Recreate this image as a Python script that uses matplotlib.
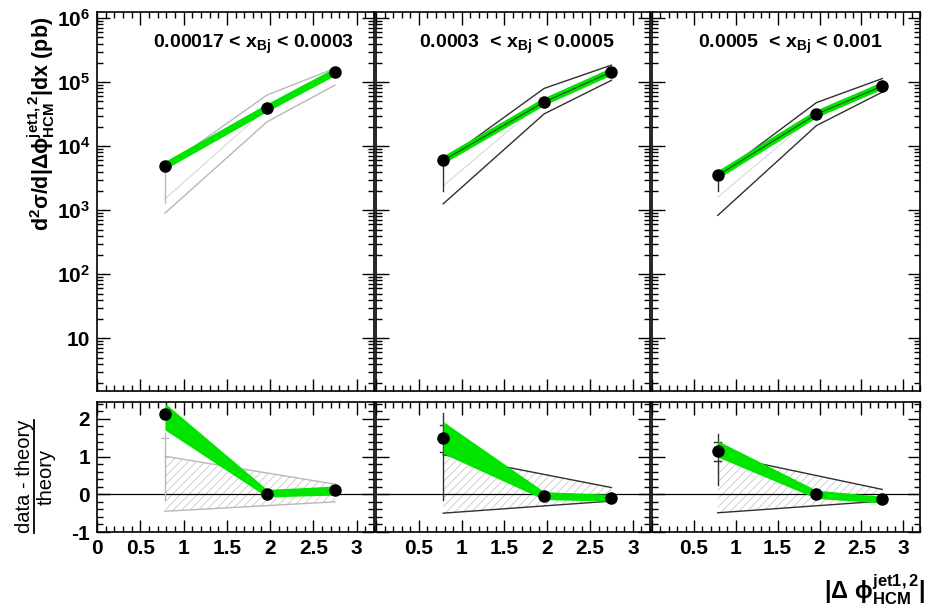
import matplotlib
matplotlib.use('Agg')
import matplotlib.pyplot as plt
from matplotlib.ticker import FixedLocator, FixedFormatter, MultipleLocator, LogLocator, NullFormatter
from matplotlib.lines import Line2D
import numpy as np

plt.rcParams['font.family'] = ['Liberation Sans', 'DejaVu Sans']
plt.rcParams['font.weight'] = 'bold'
plt.rcParams['mathtext.fontset'] = 'custom'
plt.rcParams['mathtext.rm'] = 'Liberation Sans:bold'
plt.rcParams['mathtext.bf'] = 'Liberation Sans:bold'
plt.rcParams['mathtext.it'] = 'Liberation Sans:bold'
plt.rcParams['mathtext.sf'] = 'Liberation Sans:bold'
plt.rcParams['mathtext.default'] = 'bf'
plt.rcParams['hatch.linewidth'] = 0.6

# ---------------- data ----------------
x_centers = [0.785, 1.963, 2.749]
panel_labels = [r'0.00017 < $x_{Bj}$ < 0.0003',
                r'0.0003  < $x_{Bj}$ < 0.0005',
                r'0.0005  < $x_{Bj}$ < 0.001']

# cross sections (pb)
data_p1 = [4.9e3, 3.9e4, 1.43e5]
data_p2 = [6.0e3, 4.9e4, 1.45e5]
data_p3 = [3.5e3, 3.16e4, 8.7e4]

theory_central_p1 = [1.5e3, 3.9e4, 1.29e5]
theory_central_p2 = [2.4e3, 5.2e4, 1.6e5]
theory_central_p3 = [1.6e3, 3.16e4, 1.0e5]
theory_upper_p1 = [4.7e3, 6.3e4, 1.65e5]
theory_upper_p2 = [5.8e3, 8.0e4, 1.85e5]
theory_upper_p3 = [3.4e3, 4.8e4, 1.14e5]
theory_lower_p1 = [900, 2.4e4, 9.0e4]
theory_lower_p2 = [1.26e3, 3.2e4, 1.07e5]
theory_lower_p3 = [830, 2.1e4, 7.0e4]
top_errline_p1 = [1.3e3, 4.9e3]
top_errline_p2 = [2.0e3, 6.0e3]
top_errline_p3 = [2.0e3, 2.8e3]

# (data - theory)/theory
ratio_p1 = [2.12, 0.0, 0.11]
ratio_p2 = [1.49, -0.05, -0.10]
ratio_p3 = [1.16, 0.0, -0.13]
green_hi_p1 = [2.42, 0.13, 0.22]
green_lo_p1 = [1.71, -0.07, -0.02]
green_hi_p2 = [1.93, 0.07, 0.0]
green_lo_p2 = [1.08, -0.14, -0.18]
green_hi_p3 = [1.42, 0.11, -0.05]
green_lo_p3 = [0.99, -0.11, -0.23]
band_up_p1 = [1.01, 0.27]
band_dn_p1 = [-0.45, -0.20]
band_up_p2 = [1.05, 0.18]
band_dn_p2 = [-0.50, -0.18]
band_up_p3 = [1.05, 0.13]
band_dn_p3 = [-0.49, -0.18]
err_range_p1 = [-0.15, 1.62]
err_caps_p1 = [1.5]
err_range_p2 = [-0.15, 2.17]
err_caps_p2 = [1.84, 1.11]
err_range_p3 = [0.25, 1.6]
err_caps_p3 = [1.4, 0.89]

top_ticks = [10, 1e2, 1e3, 1e4, 1e5, 1e6]
top_tick_labels = ['10', r'$10^{2}$', r'$10^{3}$', r'$10^{4}$', r'$10^{5}$', r'$10^{6}$']
bot_ticks = [-1, 0, 1, 2]
bot_tick_labels = ['-1', '0', '1', '2']
x_ticks = [0, 0.5, 1, 1.5, 2, 2.5, 3]
x_tick_labels_first = ['0', '0.5', '1', '1.5', '2', '2.5', '3']
x_tick_labels_other = ['', '0.5', '1', '1.5', '2', '2.5', '3']

panels = [
    dict(data=data_p1, tc=theory_central_p1, tu=theory_upper_p1, tl=theory_lower_p1, terr=top_errline_p1,
         ratio=ratio_p1, ghi=green_hi_p1, glo=green_lo_p1, bup=band_up_p1, bdn=band_dn_p1,
         er=err_range_p1, ec=err_caps_p1, lc='#b8b8b8', lab_x=0.565),
    dict(data=data_p2, tc=theory_central_p2, tu=theory_upper_p2, tl=theory_lower_p2, terr=top_errline_p2,
         ratio=ratio_p2, ghi=green_hi_p2, glo=green_lo_p2, bup=band_up_p2, bdn=band_dn_p2,
         er=err_range_p2, ec=err_caps_p2, lc='#303030', lab_x=0.513),
    dict(data=data_p3, tc=theory_central_p3, tu=theory_upper_p3, tl=theory_lower_p3, terr=top_errline_p3,
         ratio=ratio_p3, ghi=green_hi_p3, glo=green_lo_p3, bup=band_up_p3, bdn=band_dn_p3,
         er=err_range_p3, ec=err_caps_p3, lc='#303030', lab_x=0.515),
]

W, H = 927, 614
fig = plt.figure(figsize=(W / 100, H / 100), dpi=100)


def rect(l, t, r, b):
    return [l / W, 1 - b / H, (r - l) / W, (b - t) / H]


lefts = [(97, 374), (376, 650), (652, 920)]
GREEN = '#00e400'

for i, (p, (l, r)) in enumerate(zip(panels, lefts)):
    at = fig.add_axes(rect(l, 12, r, 391))
    ab = fig.add_axes(rect(l, 402, r, 532))

    # ---- top panel ----
    at.set_yscale('log')
    at.set_xlim(0, 3.2)
    at.set_ylim(1.5, 1.25e6)
    at.plot(x_centers, p['tc'], color='#d8d8d8', lw=0.8, zorder=1)
    at.plot(x_centers, p['tu'], color=p['lc'], lw=1.0, zorder=2)
    at.plot(x_centers, p['tl'], color=p['lc'], lw=1.0, zorder=2)
    at.plot([x_centers[0], x_centers[0]], p['terr'], color=p['lc'], lw=1.0, zorder=2)
    at.plot(x_centers, p['data'], color=GREEN, lw=5, solid_capstyle='butt', zorder=3)
    if i > 0:
        at.plot(x_centers, p['data'], color='#1e3a1e', lw=0.7, zorder=4)
    at.plot(x_centers, p['data'], 'o', color='black', ms=8, zorder=5)
    at.text(p['lab_x'], 0.915, panel_labels[i], transform=at.transAxes, ha='center', va='center',
            fontsize=14, fontweight='bold')

    at.yaxis.set_major_locator(FixedLocator(top_ticks))
    at.yaxis.set_minor_locator(LogLocator(base=10, subs=np.arange(2, 10), numticks=20))
    at.yaxis.set_minor_formatter(NullFormatter())
    if i == 0:
        at.yaxis.set_major_formatter(FixedFormatter(top_tick_labels))
    else:
        at.yaxis.set_major_formatter(NullFormatter())
    at.xaxis.set_major_locator(MultipleLocator(0.5))
    at.xaxis.set_minor_locator(MultipleLocator(0.1))
    at.xaxis.set_major_formatter(NullFormatter())

    # ---- bottom panel ----
    ab.set_xlim(0, 3.2)
    ab.set_ylim(-1, 2.45)
    bx = [x_centers[0], x_centers[-1]]
    ab.fill_between(bx, p['bdn'], p['bup'], facecolor='none', edgecolor='#c8c8c8',
                    hatch='////', linewidth=0, zorder=1)
    ab.plot(bx, p['bup'], color=p['lc'], lw=1.0, zorder=2)
    ab.plot(bx, p['bdn'], color=p['lc'], lw=1.0, zorder=2)
    ab.axhline(0, color='black', lw=0.9, zorder=2)
    ab.plot([x_centers[0], x_centers[0]], p['er'], color=p['lc'], lw=1.0, zorder=2)
    for c in p['ec']:
        ab.plot([x_centers[0] - 0.04, x_centers[0] + 0.04], [c, c], color=p['lc'], lw=1.0, zorder=2)
    ab.fill_between(x_centers, p['glo'], p['ghi'], color=GREEN, lw=0, zorder=3)
    ab.plot(x_centers, p['ratio'], 'o', color='black', ms=8, zorder=5, clip_on=False)

    ab.yaxis.set_major_locator(FixedLocator(bot_ticks))
    ab.yaxis.set_minor_locator(MultipleLocator(0.2))
    if i == 0:
        ab.yaxis.set_major_formatter(FixedFormatter(bot_tick_labels))
    else:
        ab.yaxis.set_major_formatter(NullFormatter())
    ab.xaxis.set_major_locator(FixedLocator(x_ticks))
    ab.xaxis.set_minor_locator(MultipleLocator(0.1))
    ab.xaxis.set_major_formatter(FixedFormatter(x_tick_labels_first if i == 0 else x_tick_labels_other))

    for a in (at, ab):
        for s in a.spines.values():
            s.set_linewidth(1.2)
        a.tick_params(which='both', direction='in', top=True, right=True, width=1.0,
                      labelsize=15)
        a.tick_params(which='major', length=9, pad=5)
        a.tick_params(which='minor', length=4.5)
        for lab in a.get_xticklabels() + a.get_yticklabels():
            lab.set_fontweight('bold')

# axis titles
fig.text(41 / W, 1 - 124 / H, r'$d^{2}\sigma/d|\Delta\phi^{jet1,2}_{HCM}|dx$ (pb)',
         rotation=90, ha='center', va='center', fontsize=15.5, fontweight='bold')
# fraction label for ratio panel
fig.text(25 / W, 1 - 476 / H, 'data - theory', rotation=90, ha='center', va='center',
         fontsize=14.5, fontweight='normal')
fig.text(46 / W, 1 - 477 / H, 'theory', rotation=90, ha='center', va='center',
         fontsize=14.5, fontweight='normal')
fig.add_artist(Line2D([34 / W, 34 / W], [1 - 533 / H, 1 - 420 / H], color='black', lw=1.3,
                      transform=fig.transFigure))
fig.text(875 / W, 1 - 590 / H, r'$|\Delta\ \phi^{jet1,2}_{HCM}|$',
         ha='center', va='center', fontsize=17)

fig.savefig('out.png', dpi=100)
